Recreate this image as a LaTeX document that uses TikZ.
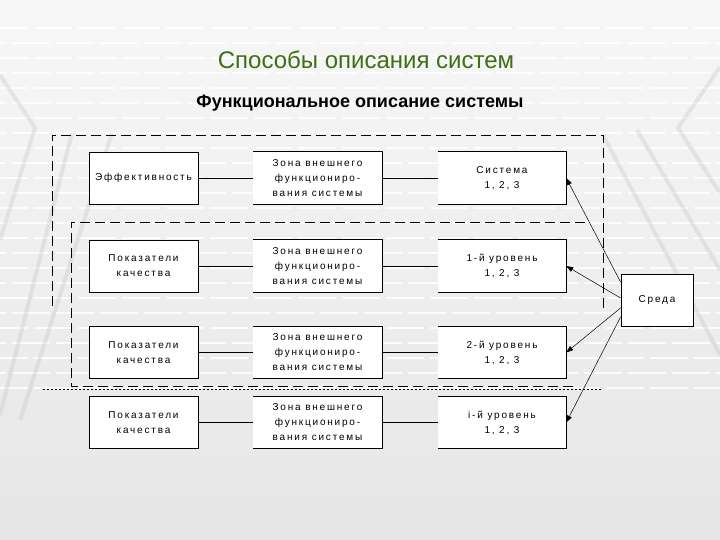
\documentclass[tikz,border=0pt]{standalone}
\usepackage{fontspec}
\setmainfont{Liberation Sans}
\newfontfamily\boxfont[LetterSpace=18]{Liberation Sans}
\usetikzlibrary{arrows.meta,calc}
\definecolor{titlegreen}{RGB}{62,110,22}
\definecolor{bgtop}{RGB}{247,247,247}
\definecolor{bgmid}{RGB}{214,214,214}
\definecolor{bgbot}{RGB}{230,230,230}
\tikzset{
  bgdash/.style={white, line width=2.2pt, opacity=0.8, dash pattern=on 38pt off 6pt},
  bgband/.style={gray!50, line width=4pt, opacity=0.3},
  boxtext/.style={font=\boxfont\fontsize{10}{15}\selectfont, align=center, inner sep=0pt},
  lbox/.style={boxtext, fill=white, draw=black, line width=0.9pt, minimum width=109pt, minimum height=52pt},
  obox/.style={boxtext, fill=white, minimum width=129pt, minimum height=52pt},
  edge/.style={draw=black, line width=0.9pt},
  conn/.style={draw=black, line width=0.8pt},
  arr/.style={draw=black, line width=0.5pt, -{Triangle[length=7pt,width=5pt]}},
  zone/.style={draw=black, line width=0.8pt, dash pattern=on 10pt off 5pt},
  dotline/.style={draw=black, line width=0.8pt, dash pattern=on 2pt off 2pt}
}
\begin{document}
\begin{tikzpicture}[x=1pt,y=1pt]
\useasboundingbox (0,0) rectangle (720,540);
% background
\shade[top color=bgtop, middle color=bgmid, bottom color=bgbot] (0,0) rectangle (720,540);
\foreach \k in {0,...,24}{
  \pgfmathsetmacro\yy{512-15*\k}
  \pgfmathsetmacro\ph{mod(\k,2)*22}
  \draw[bgdash, dash phase=\ph pt] (-10,\yy) -- (730,\yy);
}
\draw[bgband] (0,465) -- (35,412) -- (0,300);
\draw[bgband] (72,407) -- (0,125);
\draw[bgband] (112,407) -- (20,120);
\draw[bgband] (720,473) -- (678,412) -- (720,347);
\draw[bgband] (637,410) -- (720,270);
\draw[bgband] (603,405) -- (720,185);
% titles
\node[font=\fontsize{24}{28}\selectfont, text=titlegreen, inner sep=0pt] (title) at (366,480) {Способы описания систем};
\node[font=\bfseries\fontsize{18}{22}\selectfont, inner sep=0pt] (sub) at (360,437) {Функциональное описание системы};
% zones
\draw[zone] (52,234) -- (52,405) -- (603,405) -- (603,232);
\draw[zone] (585,318) -- (71,318) -- (71,154) -- (577,154);
\draw[dotline] (43,151) -- (602,151);
% boxes
\node[lbox] (a1) at (143.5,362) {Эффективность};
\node[lbox] (a2) at (143.5,274) {Показатели\\качества};
\node[lbox] (a3) at (143.5,187.5) {Показатели\\качества};
\node[lbox] (a4) at (143.5,117.5) {Показатели\\качества};
\node[obox] (b1) at (317.5,362) {Зона внешнего\\функциониро-\\вания системы};
\node[obox] (b2) at (317.5,274) {Зона внешнего\\функциониро-\\вания системы};
\node[obox] (b3) at (317.5,187.5) {Зона внешнего\\функциониро-\\вания системы};
\node[obox] (b4) at (317.5,117.5) {Зона внешнего\\функциониро-\\вания системы};
\node[obox, minimum width=128pt] (c1) at (502,362) {Система\\1, 2, 3};
\node[obox, minimum width=128pt] (c2) at (502,274) {1-й уровень\\1, 2, 3};
\node[obox, minimum width=128pt] (c3) at (502,187.5) {2-й уровень\\1, 2, 3};
\node[obox, minimum width=128pt] (c4) at (502,117.5) {i-й уровень\\1, 2, 3};
\foreach \n in {b1,b2,b3,b4,c1,c2,c3,c4}{
  \draw[edge] (\n.north west) -- (\n.north east) -- (\n.south east) -- (\n.south west);
}
\node[lbox, minimum width=72pt] (env) at (657,240) {Среда};
% connectors
\foreach \i in {1,2,3,4}{
  \draw[conn] (a\i.east) -- (b\i.west);
  \draw[conn] (b\i.east) -- (c\i.west);
}
\draw[arr] ($(env.west)+(0,18)$) -- (c1.east);
\draw[arr] ($(env.west)+(0,2)$) -- (c2.east);
\draw[arr] ($(env.west)+(0,-8)$) -- (c3.east);
\draw[arr] ($(env.west)+(0,-17)$) -- (c4.east);
\end{tikzpicture}
\end{document}
